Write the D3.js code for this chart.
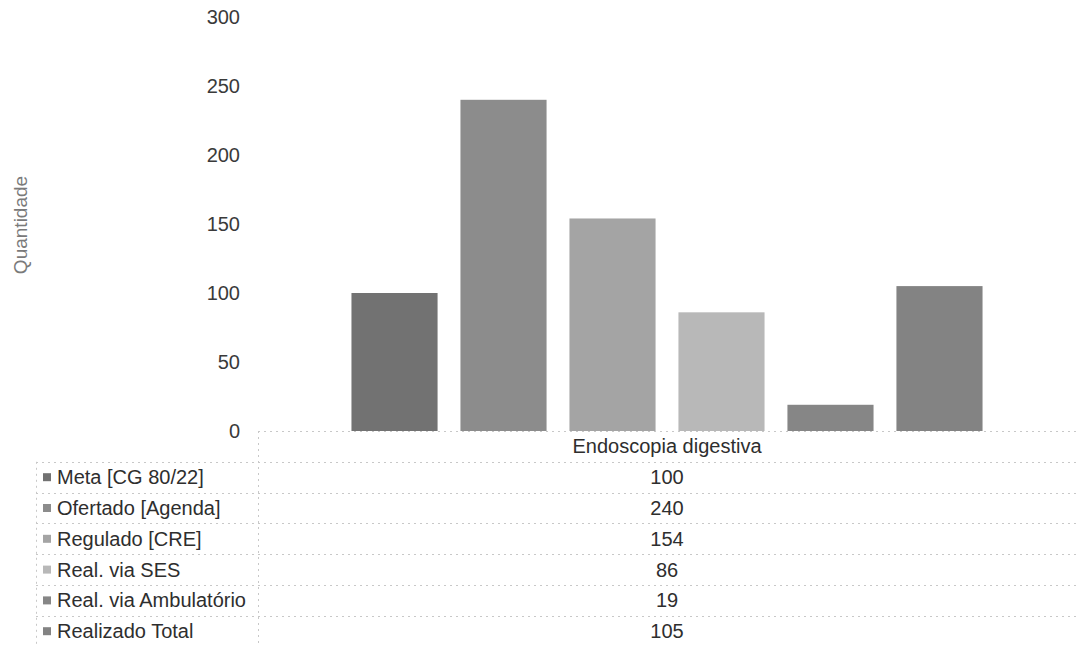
<!DOCTYPE html>
<html>
<head>
<meta charset="utf-8">
<script src="https://cdn.jsdelivr.net/npm/d3@7"></script>
<style>
  html, body { margin: 0; padding: 0; background: #fff; }
  svg { display: block; font-family: "Liberation Sans", Arial, sans-serif; }
</style>
</head>
<body>
<svg id="chart" width="1076" height="646"></svg>
<script>
const categories = ["Endoscopia digestiva"];
const seriesNames = ["Meta [CG 80/22]", "Ofertado [Agenda]", "Regulado [CRE]", "Real. via SES", "Real. via Ambulatório", "Realizado Total"];
const seriesValues = [100, 240, 154, 86, 19, 105];
const seriesColors = ["#727272", "#8c8c8c", "#a4a4a4", "#b8b8b8", "#868686", "#838383"];
const yTicks = [0, 50, 100, 150, 200, 250, 300];
const yTitle = "Quantidade";

const W = 1076, H = 646;
const plotLeft = 258, plotRight = 1076, plotTop = 17, plotBottom = 431;
const tableLeft = 36, rowH = 30.8;

const svg = d3.select("#chart");

const y = d3.scaleLinear().domain([0, 300]).range([plotBottom, plotTop]);
const x0 = d3.scaleBand().domain(categories).range([plotLeft, plotRight]).padding(0.129);
const x1 = d3.scaleBand().domain(seriesNames).range([0, x0.bandwidth()]).paddingInner(0.21).paddingOuter(0);
const color = d3.scaleOrdinal().domain(seriesNames).range(seriesColors);

// Y axis labels (no axis line)
const yAxis = d3.axisLeft(y).tickValues(yTicks).tickSize(0).tickPadding(0);
const gy = svg.append("g").attr("transform", `translate(240,0)`).call(yAxis);
gy.select(".domain").remove();
gy.selectAll("text").attr("font-size", 20).attr("fill", "#3a3a3a")
  .attr("font-family", "Liberation Sans, Arial, sans-serif");

// Y title
svg.append("text")
  .attr("transform", `translate(27,225) rotate(-90)`)
  .attr("text-anchor", "middle")
  .attr("font-size", 19)
  .attr("fill", "#7a7a7a")
  .text(yTitle);

// Bars
const data = seriesNames.map((s, i) => ({ cat: categories[0], series: s, value: seriesValues[i] }));
svg.append("g").selectAll("rect").data(data).join("rect")
  .attr("x", d => x0(d.cat) + x1(d.series))
  .attr("y", d => y(d.value))
  .attr("width", x1.bandwidth())
  .attr("height", d => y(0) - y(d.value))
  .attr("fill", d => color(d.series));

// Data table
const grid = svg.append("g").attr("stroke", "#c8c8c8").attr("stroke-width", 1).attr("stroke-dasharray", "2,4").attr("fill", "none");
grid.append("line").attr("x1", plotLeft).attr("x2", plotRight).attr("y1", plotBottom + 0.5).attr("y2", plotBottom + 0.5);
const nRows = seriesNames.length + 1;
for (let i = 1; i <= nRows; i++) {
  const yy = Math.round(plotBottom + i * rowH) + 0.5;
  grid.append("line").attr("x1", tableLeft).attr("x2", plotRight).attr("y1", yy).attr("y2", yy);
}
grid.append("line").attr("x1", plotLeft + 0.5).attr("x2", plotLeft + 0.5).attr("y1", plotBottom).attr("y2", H);
grid.append("line").attr("x1", tableLeft + 0.5).attr("x2", tableLeft + 0.5).attr("y1", plotBottom + rowH).attr("y2", H);

// header
const cx = x0(categories[0]) + x0.bandwidth() / 2;
svg.append("text")
  .attr("x", cx).attr("y", plotBottom + rowH / 2 + 7)
  .attr("text-anchor", "middle").attr("font-size", 20).attr("fill", "#2e2e2e")
  .text(categories[0]);

const rows = svg.append("g").selectAll("g").data(data).join("g")
  .attr("transform", (d, i) => `translate(0,${plotBottom + (i + 1) * rowH + rowH / 2})`);
rows.append("rect")
  .attr("x", 43).attr("y", -4).attr("width", 8).attr("height", 8)
  .attr("fill", d => color(d.series));
rows.append("text")
  .attr("x", 57).attr("y", 7)
  .attr("font-size", 20).attr("fill", "#2e2e2e")
  .text(d => d.series);
rows.append("text")
  .attr("x", cx).attr("y", 7)
  .attr("text-anchor", "middle")
  .attr("font-size", 20).attr("fill", "#2e2e2e")
  .text(d => d.value);
</script>
</body>
</html>
